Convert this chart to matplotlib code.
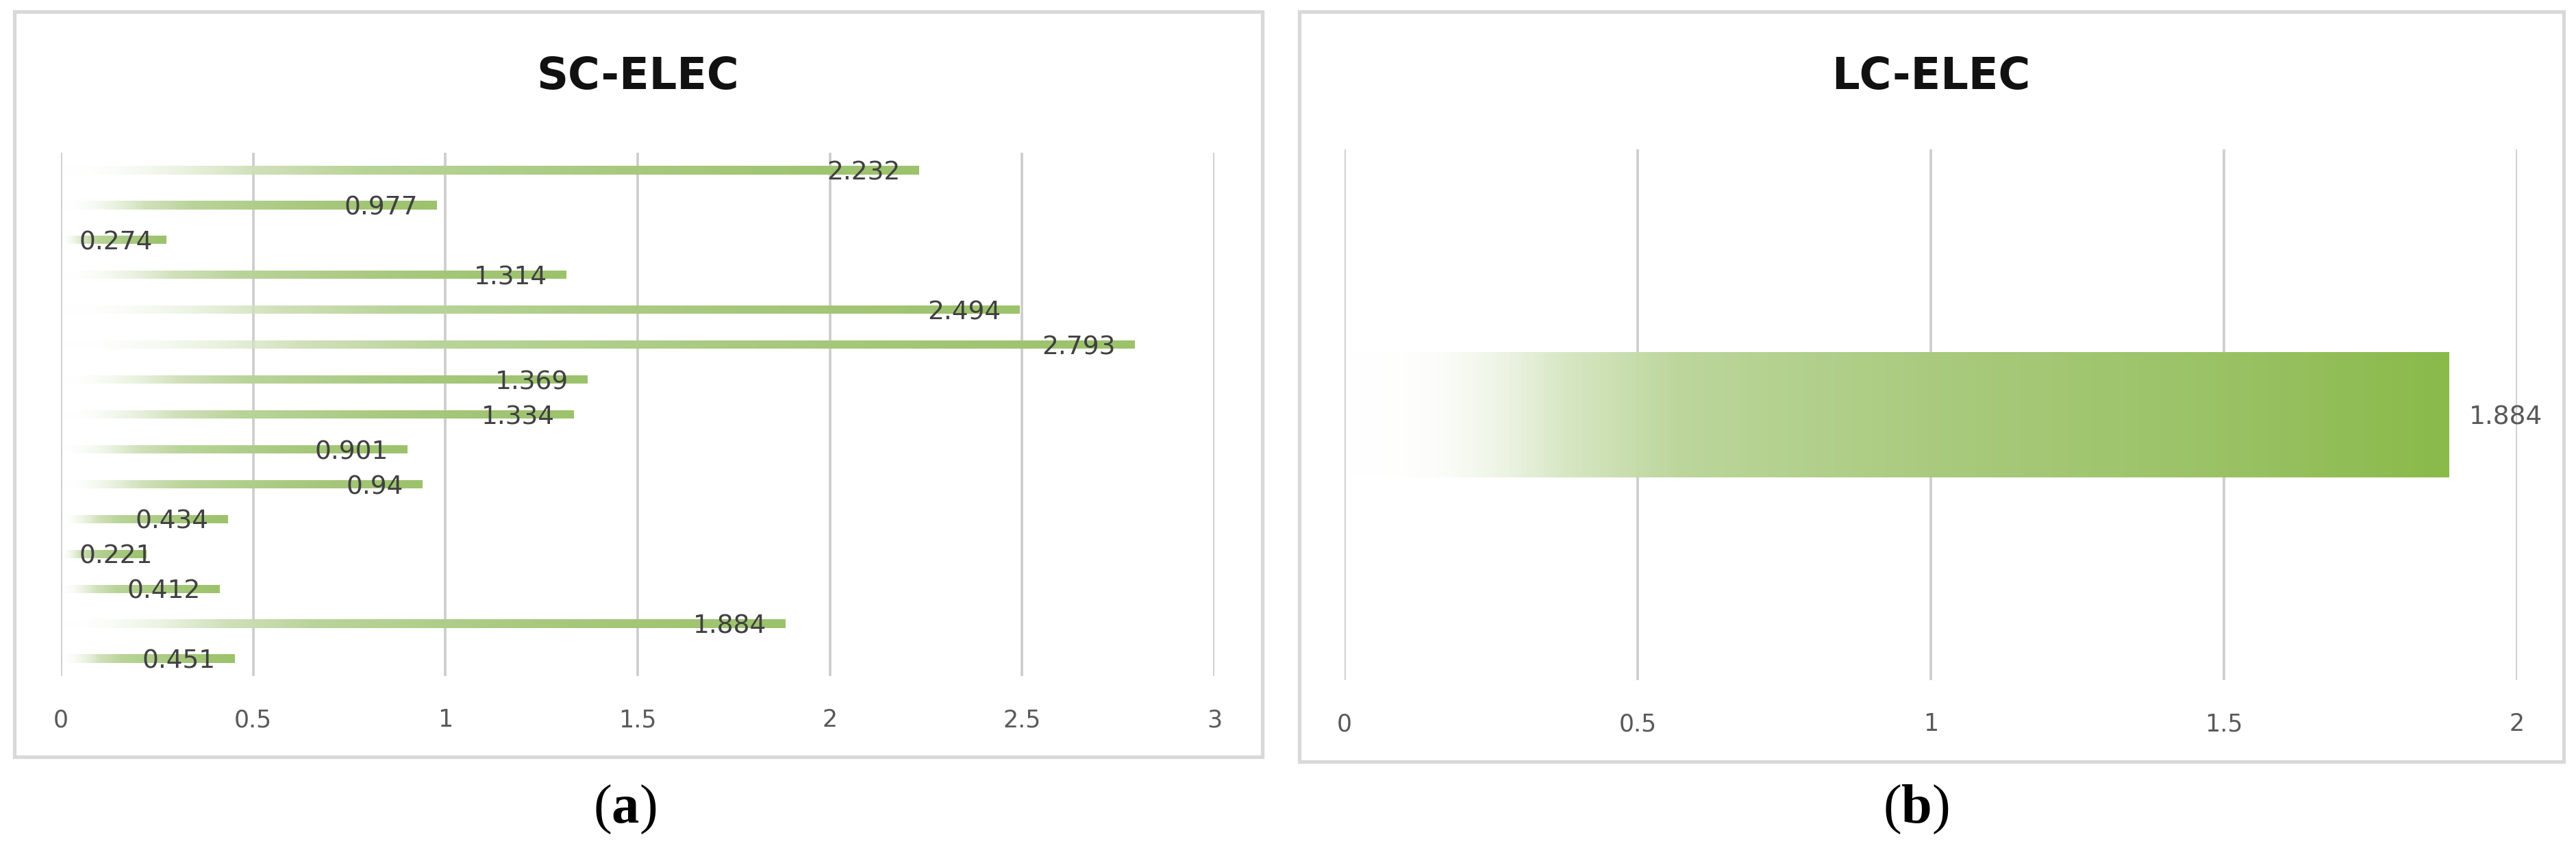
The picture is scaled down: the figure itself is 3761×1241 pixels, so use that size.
import numpy as np
import matplotlib
matplotlib.use("Agg")
import matplotlib.pyplot as plt
from matplotlib.colors import LinearSegmentedColormap, to_rgba
from matplotlib.patches import Rectangle

# ---------------- data ----------------
sc_title = "SC-ELEC"
lc_title = "LC-ELEC"
sc_categories = ["C1", "C2", "C3", "C4", "C5", "C6", "C7", "C8",
                 "C9", "C10", "C11", "C12", "C13", "C14", "C15"]
sc_values = [2.232, 0.977, 0.274, 1.314, 2.494, 2.793, 1.369, 1.334,
             0.901, 0.94, 0.434, 0.221, 0.412, 1.884, 0.451]
sc_value_labels = ["2.232", "0.977", "0.274", "1.314", "2.494", "2.793", "1.369",
                   "1.334", "0.901", "0.94", "0.434", "0.221", "0.412", "1.884", "0.451"]
lc_categories = ["C1"]
lc_values = [1.884]
lc_value_labels = ["1.884"]
sc_ticks = [0, 0.5, 1, 1.5, 2, 2.5, 3]
sc_tick_labels = ["0", "0.5", "1", "1.5", "2", "2.5", "3"]
lc_ticks = [0, 0.5, 1, 1.5, 2]
lc_tick_labels = ["0", "0.5", "1", "1.5", "2"]
captions = ["a", "b"]

# ---------------- style ----------------
W, H = 3761, 1241
DPI = 100
plt.rcParams["font.family"] = ["DejaVu Sans"]
plt.rcParams["mathtext.fontset"] = "custom"
plt.rcParams["mathtext.rm"] = "Liberation Serif"
plt.rcParams["mathtext.bf"] = "Liberation Serif:bold"

fig = plt.figure(figsize=(W / DPI, H / DPI), dpi=DPI, facecolor="white")


def rgba(c, a):
    r, g, b, _ = to_rgba(c)
    return (r, g, b, a)


cmap_sc = LinearSegmentedColormap.from_list("sc", [
    (0.0, rgba("#ffffff", 0.0)), (0.06, rgba("#e4efd6", 0.15)),
    (0.22, rgba("#cfe0b8", 0.95)), (0.35, rgba("#b9d499", 1.0)),
    (0.65, rgba("#a8c97f", 1.0)), (1.0, rgba("#9cc26b", 1.0))])
cmap_lc = LinearSegmentedColormap.from_list("lc", [
    (0.0, rgba("#ffffff", 0.0)), (0.08, rgba("#e6f0d9", 0.12)),
    (0.2, rgba("#d2e4bc", 0.9)), (0.3, rgba("#bcd69c", 1.0)),
    (0.55, rgba("#a8ca7c", 1.0)), (0.8, rgba("#9ac265", 1.0)),
    (1.0, rgba("#8aba4a", 1.0))])


def fig_rect(x0, y0, x1, y1):
    return [x0 / W, 1 - y1 / H, (x1 - x0) / W, (y1 - y0) / H]


def style_axis(ax, ticks, labels, xmax):
    ax.set_xlim(0, xmax)
    ax.set_xticks(ticks)
    ax.set_xticklabels(labels)
    ax.set_yticks([])
    for s in ax.spines.values():
        s.set_visible(False)
    ax.grid(axis="x", color="#cccccc", linewidth=2.6)
    ax.set_axisbelow(True)
    ax.tick_params(axis="x", length=0, pad=34, labelsize=25, labelcolor="#595959")
    ax.set_facecolor("none")


def gradient_bars(ax, bars, cmap):
    grad = np.linspace(0, 1, 512).reshape(1, -1)
    for b in bars:
        x0, y0 = b.get_x(), b.get_y()
        w, h = b.get_width(), b.get_height()
        im = ax.imshow(grad, cmap=cmap, extent=[x0, x0 + w, y0, y0 + h],
                       aspect="auto", origin="lower", zorder=2,
                       interpolation="bilinear")
        im.set_clip_path(b)


# ---------------- left panel ----------------
axL = fig.add_axes(fig_rect(89, 223, 1773, 987))
yL = np.arange(len(sc_values))
barsL = axL.barh(yL, sc_values, height=0.24, color="none", edgecolor="none", zorder=2)
gradient_bars(axL, barsL, cmap_sc)
style_axis(axL, sc_ticks, sc_tick_labels, 3)
axL.set_ylim(len(sc_values) - 0.5, -0.5)
for yi, v, lab in zip(yL, sc_values, sc_value_labels):
    if v < 0.3:
        axL.annotate(lab, xy=(0, yi), xytext=(19, -3), textcoords="offset points",
                     ha="left", va="center", fontsize=27, color="#404040", zorder=3)
    else:
        axL.annotate(lab, xy=(v, yi), xytext=(-20, -3), textcoords="offset points",
                     ha="right", va="center", fontsize=27, color="#404040", zorder=3)

# ---------------- right panel ----------------
axR = fig.add_axes(fig_rect(1963, 218, 3675, 993))
yR = np.arange(len(lc_values))
barsR = axR.barh(yR, lc_values, height=0.236, color="none", edgecolor="none", zorder=2)
gradient_bars(axR, barsR, cmap_lc)
style_axis(axR, lc_ticks, lc_tick_labels, 2)
axR.set_ylim(len(lc_values) - 0.5, -0.5)
for yi, v, lab in zip(yR, lc_values, lc_value_labels):
    axR.annotate(lab, xy=(v, yi), xytext=(21, -3), textcoords="offset points",
                 ha="left", va="center", fontsize=27, color="#595959", zorder=3)

# ---------------- boxes, titles, captions ----------------
for (x0, y0, x1, y1) in [(21, 17, 1843, 1105), (1897, 17, 3743, 1112)]:
    fig.patches.append(Rectangle((x0 / W, 1 - y1 / H), (x1 - x0) / W, (y1 - y0) / H,
                                 transform=fig.transFigure, fill=False,
                                 edgecolor="#d9d9d9", linewidth=3.8, zorder=0))

fig.text(931 / W, 1 - 112 / H, sc_title, ha="center", va="center",
         fontsize=46, fontweight="bold", color="#111111")
fig.text(2819 / W, 1 - 112 / H, lc_title, ha="center", va="center",
         fontsize=46, fontweight="bold", color="#111111")

for cx, cap in zip([912, 2797], captions):
    fig.text(cx / W, 1 - 1182 / H, "(" + r"$\mathbf{" + cap + "}$" + ")",
             ha="center", va="center", fontsize=58,
             family="Liberation Serif", color="black")

fig.savefig("out.png", dpi=DPI, facecolor="white")
